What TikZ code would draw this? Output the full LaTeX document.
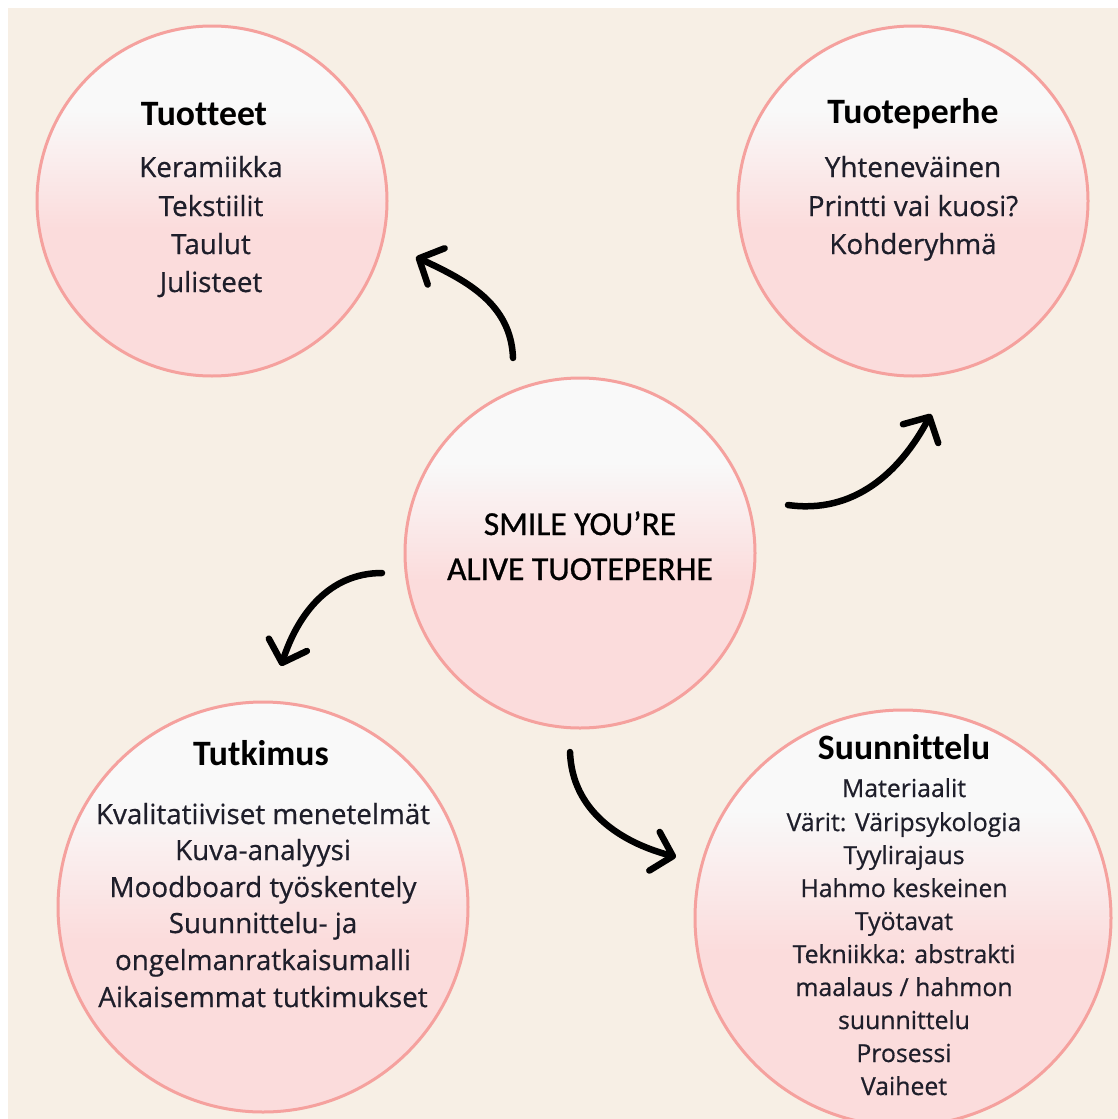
\documentclass[tikz,border=0pt]{standalone}
\usepackage{fontspec}
\usetikzlibrary{arrows.meta}
\newfontfamily\bodyf[FakeBold=0.6]{Open Sans}
\newfontfamily\headf[Ligatures=NoCommon]{Carlito}
\newfontfamily\centf[FakeBold=0.9,Ligatures=NoCommon]{Carlito}
\definecolor{cream}{HTML}{F7EFE5}
\definecolor{bpink}{HTML}{FBDCDC}
\definecolor{bwhite}{HTML}{F9F9F9}
\definecolor{rim}{HTML}{F5A19E}
\definecolor{ink}{HTML}{1E1E2A}
\pgfdeclareverticalshading{bubble}{100bp}{color(0bp)=(bpink); color(46bp)=(bpink); color(63bp)=(bwhite); color(100bp)=(bwhite)}
\tikzset{
  bubblebox/.style={circle, draw=rim, line width=3pt, shading=bubble, inner sep=0pt},
  titletext/.style={anchor=base, inner sep=0pt, font=\headf\bfseries\fontsize{35.7}{40}\selectfont, text=black},
  bodytext/.style={anchor=base, inner sep=0pt, font=\bodyf\fontsize{27.8}{30}\selectfont, text=ink},
  smalltext/.style={anchor=base, inner sep=0pt, font=\bodyf\fontsize{24.8}{26}\selectfont, text=ink},
  centertext/.style={anchor=base, inner sep=0pt, font=\centf\fontsize{33.5}{40}\selectfont, text=black},
  arr/.style={line width=6.5pt, line cap=round, black, -{Straight Barb[length=19pt,width=40pt,round]}}
}
\begin{document}
\begin{tikzpicture}[x=1pt,y=-1pt]
\useasboundingbox (0,0) rectangle (1118,1119);
\clip (0,0) rectangle (1118,1119);
\fill[white] (0,0) rectangle (1118,1119);
\fill[cream] (8,8) rectangle (1118,1119);

% circles
\node[bubblebox, minimum size=350pt] (tuotteet) at (212,201) {};
\node[bubblebox, minimum size=350pt] (perhe) at (913,201) {};
\node[bubblebox, minimum size=350pt] (center) at (580,553) {};
\node[bubblebox, minimum size=410pt] (tutkimus) at (263,907) {};
\node[bubblebox, minimum size=416pt] (suunn) at (903,918) {};

% Tuotteet
\node[titletext] (tuotteet-title) at (204,125) {Tuotteet};
\foreach \y/\t [count=\i] in {177/Keramiikka, 216/Tekstiilit, 254/Taulut, 292/Julisteet}
  \node[bodytext] (tuotteet-\i) at (211,\y) {\t};

% Tuoteperhe
\node[titletext] (perhe-title) at (913,123) {Tuoteperhe};
\foreach \y/\t [count=\i] in {177/Yhteneväinen, 216/Printti vai kuosi?, 254/Kohderyhmä}
  \node[bodytext] (perhe-\i) at (913,\y) {\t};

% Center
\node[centertext] (center-1) at (580,535) {SMILE YOU’RE};
\node[centertext] (center-2) at (580,580) {ALIVE TUOTEPERHE};

% Tutkimus
\node[titletext] (tutkimus-title) at (261,765) {Tutkimus};
\foreach \y/\t [count=\i] in {824/Kvalitatiiviset menetelmät, 860/Kuva-analyysi, 897/Moodboard työskentely, 933/Suunnittelu- ja, 970/ongelmanratkaisumalli, 1007/Aikaisemmat tutkimukset}
  \node[bodytext] (tutkimus-\i) at (263,\y) {\t};

% Suunnittelu
\node[titletext] (suunn-title) at (904,759) {Suunnittelu};
\foreach \y/\t [count=\i] in {797/Materiaalit, 831/Värit: Väripsykologia, 864/Tyylirajaus, 897/Hahmo keskeinen, 930/Työtavat, 963/Tekniikka: abstrakti, 996/{maalaus / hahmon}, 1029/suunnittelu, 1062/Prosessi, 1095/Vaiheet}
  \node[smalltext] (suunn-\i) at (904,\y) {\t};

% arrows
\coordinate (a1s) at (513,358);
\coordinate (a1e) at (416,257);
\coordinate (a2s) at (788,505);
\coordinate (a2e) at (931,414);
\coordinate (a3s) at (382,573);
\coordinate (a3e) at (281,666);
\coordinate (a4s) at (570,752);
\coordinate (a4e) at (676,857);
\draw[arr] (a1s) to[out=92,in=-25] (a1e);
\draw[arr] (a2s) to[out=-8,in=-118] (a2e);
\draw[arr] (a3s) to[out=180,in=72] (a3e);
\draw[arr] (a4s) to[out=-88,in=165] (a4e);
\end{tikzpicture}
\end{document}
